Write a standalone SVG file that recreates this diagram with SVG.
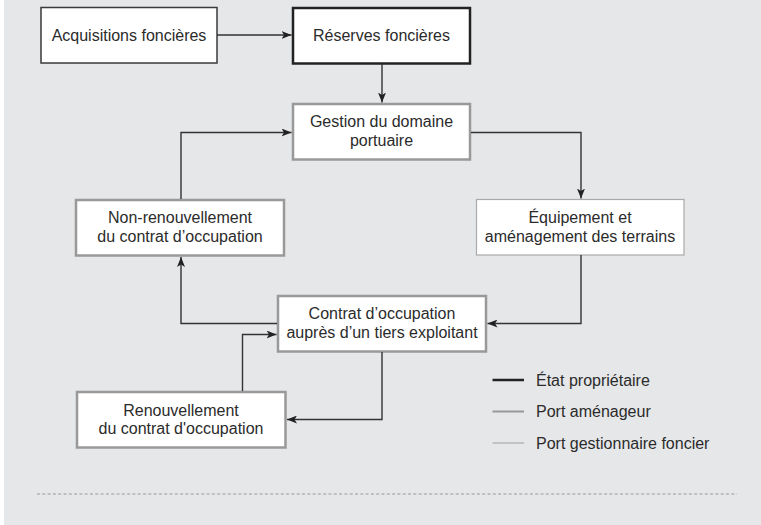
<svg xmlns="http://www.w3.org/2000/svg" width="761" height="525" viewBox="0 0 761 525">
<defs>
<marker id="arr" markerUnits="userSpaceOnUse" markerWidth="10" markerHeight="8" refX="10" refY="4" orient="auto">
<path d="M0,0 L10,4 L0,8 L2.5,4 Z" fill="#222"/>
</marker>
<style>
text{font-family:"Liberation Sans",Arial,sans-serif;font-size:16px;fill:#2b2b2b;text-anchor:middle}
.legend text{text-anchor:start}
.box{fill:#fff}
.etat{stroke:#222;stroke-width:2.5}
.amen{stroke:#999;stroke-width:2.5}
.gest{stroke:#aaa;stroke-width:1.2}
.acq{stroke:#3a3a3a;stroke-width:1.5}
.conn path{fill:none;stroke:#333;stroke-width:1.4;marker-end:url(#arr)}
</style>
</defs>
<rect x="4" y="0" width="757" height="525" fill="#e6e7e9"/>

<g id="acquisitions">
<rect class="box acq" x="41" y="7.5" width="176" height="55.5"/>
<text x="129" y="40.5">Acquisitions foncières</text>
</g>
<g id="reserves">
<rect class="box etat" x="293" y="8" width="177" height="55.5"/>
<text x="381.5" y="41">Réserves foncières</text>
</g>
<g id="gestion">
<rect class="box amen" x="293" y="104" width="177" height="55.5"/>
<text x="381.5" y="127">Gestion du domaine</text>
<text x="381.5" y="145.5">portuaire</text>
</g>
<g id="equipement">
<rect class="box gest" x="476.5" y="199.5" width="207.5" height="55.5"/>
<text x="580" y="223">Équipement et</text>
<text x="580" y="242">aménagement des terrains</text>
</g>
<g id="non-renouvellement">
<rect class="box amen" x="76" y="200" width="208" height="55.5"/>
<text x="180" y="223">Non-renouvellement</text>
<text x="180" y="242">du contrat d’occupation</text>
</g>
<g id="contrat">
<rect class="box amen" x="278" y="296" width="208" height="55.5"/>
<text x="382" y="319">Contrat d’occupation</text>
<text x="382" y="338">auprès d’un tiers exploitant</text>
</g>
<g id="renouvellement">
<rect class="box amen" x="77" y="392" width="208.5" height="55.5"/>
<text x="181" y="415.5">Renouvellement</text>
<text x="181" y="434">du contrat d'occupation</text>
</g>

<g id="connectors" class="conn">
<path d="M217,35 H291.5"/>
<path d="M382,63.5 V102.5"/>
<path d="M181,199 V132.5 H291.5"/>
<path d="M471,132.5 H581 V198.5"/>
<path d="M581,255 V323.5 H487.5"/>
<path d="M277,323.5 H181 V257"/>
<path d="M382,352 V419.5 H287"/>
<path d="M242.5,391 V334.5 H276.5"/>
</g>

<g id="legend" class="legend">
<line x1="492.5" y1="380" x2="524" y2="380" stroke="#222" stroke-width="2.5"/>
<line x1="492.5" y1="411.5" x2="524" y2="411.5" stroke="#999" stroke-width="2"/>
<line x1="492.5" y1="443" x2="524" y2="443" stroke="#aaa" stroke-width="1.2"/>
<text x="536" y="385.5">État propriétaire</text>
<text x="536" y="417">Port aménageur</text>
<text x="536" y="448.5">Port gestionnaire foncier</text>
</g>

<line x1="37" y1="494" x2="737" y2="494" stroke="#999" stroke-width="1.2" stroke-dasharray="3 2.3"/>
</svg>
